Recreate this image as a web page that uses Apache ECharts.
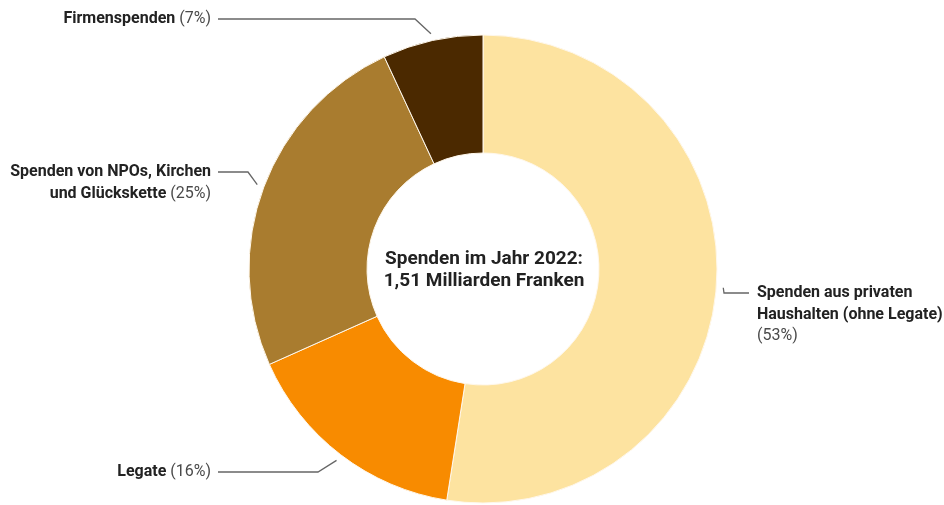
<!DOCTYPE html>
<html>
<head>
<meta charset="utf-8">
<script src="https://cdn.jsdelivr.net/npm/echarts@6/dist/echarts.min.js"></script>
<style>
  html, body { margin: 0; padding: 0; background: #fff; }
  #chart { width: 944px; height: 505px; }
</style>
</head>
<body>
<div id="chart"></div>
<script>
// Spendenvolumen 2022 nach Herkunft (Anteile in Prozent)
const categories = [
  'Spenden aus privaten\nHaushalten (ohne Legate)',
  'Legate',
  'Spenden von NPOs, Kirchen\nund Glückskette',
  'Firmenspenden'
];
const shares = [53, 16, 25, 7];
const sliceColors = ['#FDE3A0', '#F88B00', '#A97C2F', '#4B2900'];
const centerLines = ['Spenden im Jahr 2022:', '1,51 Milliarden Franken'];

// Donut geometry (px)
const CX = 483, CY = 269, R_IN = 116, R_OUT = 234;
const LINE_H = 21.5;

// Label placement per slice: text anchor, leader line height, elbow and end of leader
const labelPlacement = [
  { side: 'left',  textX: 757, lineY: 293, elbowX: 724, endX: 749, pctOwnLine: true },
  { side: 'right', textX: 211, lineY: 472, elbowX: 318, endX: 218 },
  { side: 'right', textX: 211, lineY: 172, elbowX: 248, endX: 218 },
  { side: 'right', textX: 211, lineY: 19,  elbowX: 415, endX: 218 }
];

const total = shares.reduce((a, b) => a + b, 0);
const midAngles = [];
let acc = 0;
shares.forEach(v => { midAngles.push((acc + v / 2) / total * 2 * Math.PI); acc += v; });

function labelText(i) {
  const p = labelPlacement[i];
  const sfx = p.side === 'right' ? 'R' : 'L';
  const lines = categories[i].split('\n').map(l => '{b' + sfx + '|' + l + '}');
  const pct = '(' + shares[i] + '%)';
  if (p.pctOwnLine) {
    lines.push('{p' + sfx + '|' + pct + '}');
  } else {
    lines[lines.length - 1] += '{p' + sfx + '| ' + pct + '}';
  }
  return lines.join('\n');
}

const nameStyle = { fontFamily: 'Roboto', fontWeight: 'bold', fontSize: 16, color: '#222', lineHeight: LINE_H };
const pctStyle = { fontFamily: 'Roboto', fontWeight: 'normal', fontSize: 16, color: '#4a4a4a', lineHeight: LINE_H };

const chart = echarts.init(document.getElementById('chart'), null, { renderer: 'canvas' });
chart.setOption({
  backgroundColor: '#ffffff',
  animation: false,
  graphic: [{
    type: 'text',
    x: CX + 1,
    y: CY + 1,
    style: {
      text: centerLines.join('\n'),
      fontFamily: 'Roboto',
      fontWeight: 'bold',
      fontSize: 19,
      lineHeight: 22,
      fill: '#222',
      align: 'center',
      verticalAlign: 'middle'
    }
  }],
  series: [{
    type: 'pie',
    center: [CX, CY],
    radius: [R_IN, R_OUT],
    startAngle: 90,
    clockwise: true,
    itemStyle: { borderColor: '#fff8ec', borderWidth: 1 },
    emphasis: { disabled: true },
    label: {
      show: true,
      position: 'outside',
      formatter: p => labelText(p.dataIndex),
      rich: {
        bR: Object.assign({ align: 'right' }, nameStyle),
        pR: Object.assign({ align: 'right' }, pctStyle),
        bL: Object.assign({ align: 'left' }, nameStyle),
        pL: Object.assign({ align: 'left' }, pctStyle)
      }
    },
    labelLine: {
      show: true,
      length: 10,
      length2: 10,
      lineStyle: { color: '#666', width: 1.3 }
    },
    labelLayout: function (params) {
      const i = params.dataIndex;
      const p = labelPlacement[i];
      const a = midAngles[i];
      const sx = CX + (R_OUT + 7) * Math.sin(a);
      const sy = CY - (R_OUT + 7) * Math.cos(a);
      return {
        x: p.textX,
        y: p.lineY - LINE_H / 2,
        align: p.side === 'right' ? 'right' : 'left',
        verticalAlign: 'top',
        hideOverlap: false,
        moveOverlap: null,
        labelLinePoints: [[sx, sy], [p.elbowX, p.lineY], [p.endX, p.lineY]]
      };
    },
    data: categories.map((name, i) => ({
      name: name,
      value: shares[i],
      itemStyle: { color: sliceColors[i] }
    }))
  }]
});
</script>
</body>
</html>
